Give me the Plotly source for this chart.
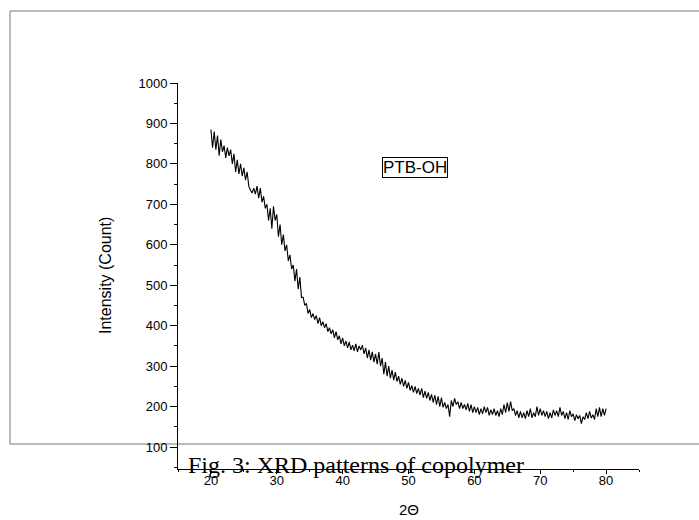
import numpy as np
import plotly.graph_objects as go

# 2-theta start values of each 1-degree group; 4 samples per degree (step 0.25)
two_theta_start = 20.0
two_theta_step = 0.25
intensity = [
    885, 840, 880, 835,
    870, 820, 860, 830,
    845, 815, 840, 820,
    835, 800, 825, 780,
    810, 775, 800, 770,
    790, 760, 780, 745,
    735, 728, 740, 725,
    745, 715, 740, 705,
    720, 690, 700, 660,
    690, 640, 695, 660,
    675, 620, 650, 600,
    625, 585, 600, 560,
    575, 540, 550, 510,
    540, 490, 520, 470,
    470, 450, 455, 430,
    440, 420, 430, 415,
    425, 405, 420, 400,
    410, 395, 405, 385,
    395, 380, 390, 370,
    385, 365, 375, 355,
    370, 350, 362, 345,
    360, 340, 352, 338,
    355, 335, 350, 340,
    352, 330, 345, 320,
    340, 315, 335, 310,
    330, 305, 335, 300,
    320, 280, 310, 275,
    300, 270, 290, 265,
    285, 262, 275, 255,
    270, 250, 265, 245,
    260, 240, 252, 235,
    250, 232, 245, 228,
    245, 222, 238, 220,
    235, 215, 230, 210,
    228, 205, 225, 200,
    222, 198, 210, 195,
    205, 175, 215, 200,
    220, 205, 212, 195,
    210, 195, 205, 192,
    208, 188, 205, 185,
    200, 185, 198, 180,
    195, 182, 200, 185,
    198, 178, 192, 180,
    195, 178, 190, 175,
    195, 180, 205, 185,
    210, 188, 212, 190,
    195, 178, 190, 172,
    188, 172, 185, 170,
    190, 175, 195, 172,
    185, 175, 200, 178,
    195, 178, 190, 175,
    188, 170, 185, 172,
    192, 178, 190, 175,
    198, 178, 188, 170,
    185, 168, 190, 175,
    182, 165, 180, 170,
    178, 158, 175, 168,
    185, 170, 188, 172,
    180, 168, 195, 175,
    198, 175, 195, 178,
    195,
]
two_theta = [two_theta_start + i * two_theta_step for i in range(len(intensity))]

x_ticks = [20, 30, 40, 50, 60, 70, 80]
y_ticks = [100, 200, 300, 400, 500, 600, 700, 800, 900, 1000]

fig = go.Figure()
fig.add_trace(go.Scatter(x=two_theta, y=intensity, mode="lines",
                         line=dict(color="black", width=1.1), showlegend=False,
                         hoverinfo="skip"))

axis_font = dict(family="Liberation Sans, Arial", size=13, color="black")
title_font = dict(family="Liberation Sans, Arial", size=16, color="black")

# plot area: x 178..639 px, y 83..469 px
L, R, T, B = 178, 639, 83, 469
W, H = R - L, B - T

def px_x(p):
    return (p - L) / W

def px_y(p):
    return (B - p) / H

fig.update_layout(
    width=699, height=520,
    margin=dict(l=L, r=699 - R, t=T, b=520 - B),
    paper_bgcolor="white", plot_bgcolor="white",
    xaxis=dict(range=[15, 85], tickvals=x_ticks, showline=True, linecolor="black",
               linewidth=1, ticks="outside", ticklen=4, tickcolor="black",
               ticklabelstandoff=-5,
               showgrid=False, zeroline=False, tickfont=axis_font,
               minor=dict(dtick=5, tick0=15, ticks="outside", ticklen=2, tickcolor="black")),
    yaxis=dict(range=[45.6, 1000], tickvals=y_ticks, showline=True, linecolor="black",
               linewidth=1, ticks="outside", ticklen=7, tickcolor="black",
               showgrid=False, zeroline=False, tickfont=axis_font,
               minor=dict(dtick=50, tick0=50, ticks="outside", ticklen=3, tickcolor="black")),
    shapes=[dict(type="rect", xref="paper", yref="paper",
                 x0=px_x(10), x1=px_x(705), y0=px_y(444), y1=px_y(11),
                 line=dict(color="#777777", width=1), fillcolor="rgba(0,0,0,0)",
                 layer="below")],
    annotations=[
        dict(text="PTB-OH", x=51, y=790, xref="x", yref="y", showarrow=False,
             xanchor="center", yanchor="middle",
             font=dict(family="Liberation Sans, Arial", size=17, color="black"),
             bordercolor="black", borderwidth=1, borderpad=0, bgcolor="white"),
        dict(text="Intensity (Count)", x=px_x(105), y=0.5, xref="paper", yref="paper",
             xanchor="center", yanchor="middle",
             showarrow=False, textangle=-90, font=title_font),
        dict(text="2\u0398", x=0.5, y=px_y(519), xref="paper", yref="paper",
             xanchor="center", yanchor="bottom", borderpad=0,
             showarrow=False, font=dict(family="Liberation Sans, Arial", size=15, color="black")),
        dict(text="Fig. 3: XRD patterns of copolymer", x=px_x(356), y=px_y(465),
             xref="paper", yref="paper", showarrow=False,
             xanchor="center", yanchor="middle",
             font=dict(family="Liberation Serif, Times New Roman", size=24, color="black")),
    ],
)

fig.write_html("out.html")
